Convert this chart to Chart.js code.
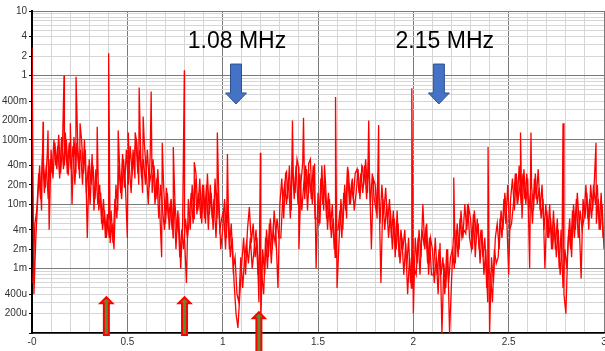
<!DOCTYPE html>
<html>
<head>
<meta charset="utf-8">
<script src="https://cdn.jsdelivr.net/npm/chart.js@4.4.0/dist/chart.umd.min.js"></script>
<style>
  html, body { margin: 0; padding: 0; background: #fff; }
  canvas { display: block; }
</style>
</head>
<body>
<canvas id="spectrum" width="605" height="351"></canvas>
<script>
// noise floor, one sample every 0.01 MHz from 0 to 3 MHz
const freqStep = 0.01;
const baseLevel = [
  2.7, 0.0004, 0.003, 0.012, 0.04, 0.008, 0.045, 0.018, 0.06, 0.004,
  0.07, 0.025, 0.09, 0.035, 0.12, 0.03, 0.08, 0.04, 0.1, 0.028,
  0.09, 0.01, 0.11, 0.03, 0.08, 0.025, 0.1, 0.03, 0.07, 0.003,
  0.05, 0.02, 0.04, 0.012, 0.03, 0.008, 0.015, 0.004, 0.008, 0.003,
  0.006, 0.0025, 0.005, 0.002, 0.02, 0.008, 0.035, 0.012, 0.05, 0.02,
  0.003, 0.04, 0.015, 0.07, 0.025, 0.09, 0.02, 0.06, 0.015, 0.08,
  0.03, 0.01, 0.06, 0.015, 0.04, 0.012, 0.035, 0.008, 0.0015, 0.02,
  0.005, 0.015, 0.004, 0.012, 0.003, 0.01, 0.004, 0.006, 0.001, 0.005,
  0.003, 0.0006, 0.012, 0.004, 0.02, 0.006, 0.03, 0.008, 0.025, 0.005,
  0.02, 0.005, 0.03, 0.007, 0.015, 0.004, 0.025, 0.006, 0.012, 0.002,
  0.004, 0.012, 0.003, 0.008, 0.0015, 0.003, 0.0006, 0.0002, 0.00012, 0.0004,
  0.0012, 0.003, 0.0008, 0.004, 0.009, 0.0025, 0.005, 0.0015, 0.003, 0.0003,
  0.00015, 0.002, 0.0008, 0.004, 0.0015, 0.006, 0.002, 0.008, 0.003, 0.0005,
  0.01, 0.025, 0.006, 0.03, 0.012, 0.04, 0.008, 0.03, 0.015, 0.05,
  0.002, 0.02, 0.045, 0.012, 0.035, 0.015, 0.05, 0.01, 0.03, 0.001,
  0.015, 0.005, 0.04, 0.008, 0.02, 0.004, 0.012, 0.003, 0.006, 0.0015,
  0.0005, 0.0025, 0.012, 0.004, 0.02, 0.006, 0.03, 0.01, 0.025, 0.008,
  0.015, 0.035, 0.012, 0.04, 0.02, 0.05, 0.015, 0.03, 0.002, 0.025,
  0.02, 0.006, 0.015, 0.0006, 0.012, 0.004, 0.01, 0.003, 0.008, 0.002,
  0.006, 0.002, 0.005, 0.0012, 0.003, 0.0008, 0.0025, 0.0004, 0.0015, 0.0005,
  0.0002, 0.003, 0.0012, 0.004, 0.0015, 0.01, 0.002, 0.005, 0.0008, 0.003,
  0.002, 0.0006, 0.0015, 0.0004, 0.0025, 0.0001, 0.0012, 0.0005, 0.002, 0.0001,
  0.0006, 0.003, 0.0012, 0.005, 0.002, 0.008, 0.003, 0.01, 0.004, 0.009,
  0.006, 0.002, 0.008, 0.003, 0.005, 0.0012, 0.004, 0.0008, 0.002, 0.0003,
  0.0001, 0.0015, 0.0006, 0.003, 0.005, 0.002, 0.008, 0.004, 0.015, 0.006,
  0.0008, 0.012, 0.025, 0.008, 0.03, 0.012, 0.02, 0.006, 0.035, 0.01,
  0.025, 0.001, 0.02, 0.008, 0.03, 0.01, 0.018, 0.006, 0.012, 0.001,
  0.008, 0.003, 0.006, 0.002, 0.005, 0.0015, 0.004, 0.0008, 0.002, 0.0004,
  0.0002, 0.002, 0.006, 0.0015, 0.01, 0.004, 0.015, 0.005, 0.0007, 0.012,
  0.006, 0.015, 0.004, 0.02, 0.008, 0.025, 0.005, 0.012, 0.004, 0.01, 0.002
];

// second sweep read half way between the samples above (0.005, 0.015, ...)
const midLevel = [
  0.0006, 0.005, 0.008, 0.03, 0.012, 0.06, 0.015, 0.04, 0.012, 0.05,
  0.03, 0.1, 0.04, 0.08, 0.025, 0.11, 0.035, 0.13, 0.03, 0.09,
  0.035, 0.08, 0.02, 0.09, 0.035, 0.07, 0.02, 0.1, 0.015, 0.04,
  0.01, 0.06, 0.008, 0.035, 0.01, 0.02, 0.005, 0.012, 0.003, 0.007,
  0.003, 0.008, 0.0025, 0.012, 0.006, 0.04, 0.015, 0.06, 0.018, 0.07,
  0.02, 0.08, 0.03, 0.05, 0.1, 0.03, 0.07, 0.025, 0.05, 0.02,
  0.07, 0.02, 0.03, 0.05, 0.01, 0.025, 0.006, 0.02, 0.008, 0.004,
  0.018, 0.006, 0.01, 0.004, 0.012, 0.002, 0.008, 0.0015, 0.004, 0.002,
  0.006, 0.003, 0.006, 0.015, 0.005, 0.025, 0.007, 0.015, 0.006, 0.02,
  0.006, 0.02, 0.004, 0.02, 0.006, 0.012, 0.003, 0.015, 0.004, 0.006,
  0.008, 0.002, 0.01, 0.002, 0.005, 0.001, 0.0015, 0.0004, 0.0003, 0.0015,
  0.0005, 0.0015, 0.0025, 0.0012, 0.003, 0.001, 0.002, 0.004, 0.0008, 0.002,
  0.0008, 0.0004, 0.003, 0.001, 0.005, 0.0012, 0.004, 0.0025, 0.006, 0.003,
  0.003, 0.012, 0.02, 0.01, 0.025, 0.006, 0.045, 0.012, 0.04, 0.01,
  0.03, 0.008, 0.02, 0.04, 0.008, 0.03, 0.012, 0.04, 0.006, 0.006,
  0.005, 0.025, 0.01, 0.02, 0.006, 0.015, 0.004, 0.01, 0.002, 0.004,
  0.004, 0.008, 0.003, 0.015, 0.008, 0.035, 0.01, 0.02, 0.012, 0.03,
  0.035, 0.015, 0.03, 0.015, 0.04, 0.012, 0.045, 0.01, 0.03, 0.012,
  0.008, 0.03, 0.005, 0.02, 0.007, 0.018, 0.005, 0.012, 0.003, 0.008,
  0.0015, 0.008, 0.0015, 0.004, 0.002, 0.004, 0.001, 0.003, 0.0006, 0.002,
  0.001, 0.0008, 0.003, 0.0008, 0.004, 0.0025, 0.004, 0.0012, 0.003, 0.0008,
  0.0008, 0.003, 0.0008, 0.002, 0.0008, 0.0015, 0.0004, 0.002, 0.0006, 0.0015,
  0.002, 0.001, 0.004, 0.0015, 0.006, 0.003, 0.004, 0.0035, 0.01, 0.003,
  0.002, 0.007, 0.0015, 0.006, 0.002, 0.004, 0.0015, 0.003, 0.0005, 0.001,
  0.0008, 0.0003, 0.002, 0.0012, 0.0015, 0.006, 0.003, 0.012, 0.005, 0.02,
  0.004, 0.005, 0.01, 0.03, 0.01, 0.04, 0.01, 0.03, 0.012, 0.03,
  0.008, 0.015, 0.005, 0.025, 0.012, 0.035, 0.008, 0.02, 0.004, 0.01,
  0.003, 0.01, 0.002, 0.008, 0.002, 0.006, 0.001, 0.004, 0.0005, 0.002,
  0.001, 0.004, 0.002, 0.008, 0.003, 0.012, 0.003, 0.008, 0.004, 0.006,
  0.02, 0.006, 0.012, 0.006, 0.02, 0.01, 0.02, 0.004, 0.015, 0.003
];

// narrow spectral lines sticking out of the floor
const spikeFreq = [0.058, 0.084, 0.168, 0.201, 0.231, 0.252, 0.342, 0.402, 0.452, 0.505,
  0.541, 0.562, 0.583, 0.625, 0.683, 0.741, 0.799, 0.851, 0.972, 1.025,
  1.198, 1.335, 1.366, 1.398, 1.424, 1.451, 1.482, 1.534, 1.592, 1.655,
  1.734, 1.766, 1.818, 1.992, 2.212, 2.392, 2.562, 2.617, 2.785, 2.958];
const spikeLevel = [0.19, 0.14, 1.0, 0.18, 0.95, 0.18, 0.16, 2.2, 0.14, 0.13,
  0.13, 0.65, 0.23, 0.56, 0.09, 0.077, 1.2, 0.045, 0.13, 0.06,
  0.063, 0.032, 0.2, 0.038, 0.22, 0.043, 0.043, 0.041, 0.46, 0.038,
  0.038, 0.2, 0.17, 0.63, 0.026, 0.077, 0.13, 0.13, 0.18, 0.09];

const xLabelValues = [0, 0.5, 1, 1.5, 2, 2.5, 3];
const xLabelTexts = ['-0', '0.5', '1', '1.5', '2', '2.5', '3'];
const yLabelValues = [10, 4, 2, 1, 0.4, 0.2, 0.1, 0.04, 0.02, 0.01, 0.004, 0.002, 0.001, 0.0004, 0.0002, 0.0001];
const yLabelTexts = ['10', '4', '2', '1', '400m', '200m', '100m', '40m', '20m', '10m', '4m', '2m', '1m', '400u', '200u', ''];

// annotations (data coordinates)
const markerTexts = [
  { text: '1.08 MHz', x: 1.075, y: 3.4 },
  { text: '2.15 MHz', x: 2.165, y: 3.4 }
];
const downArrows = [
  { x: 1.07, from: 1.5, to: 0.36 },
  { x: 2.134, from: 1.5, to: 0.36 }
];
const upArrows = [
  { x: 0.39, tip: 0.00036, base: 0.0001 },
  { x: 0.80, tip: 0.00036, base: 0.0001 },
  { x: 1.19, tip: 0.00021, base: 0.00005 }
];

function same(a, b) {
  return Math.abs(a - b) <= Math.abs(b) * 1e-6 + 1e-12;
}
function labelFor(values, texts, v) {
  const i = values.findIndex(t => same(v, t));
  return i < 0 ? null : texts[i];
}
function isDecade(v) {
  const l = Math.log10(v);
  return Math.abs(l - Math.round(l)) < 1e-6;
}

// merge floor samples and spectral lines into one sorted trace
const trace = baseLevel.map((v, i) => ({ x: Math.round(i * freqStep * 100) / 100, y: v }));
spikeFreq.forEach((f, i) => trace.push({ x: f, y: spikeLevel[i] }));
trace.sort((a, b) => a.x - b.x);
const midTrace = midLevel.map((v, i) => ({ x: Math.round((i + 0.5) * freqStep * 1000) / 1000, y: v }));

const annotationPlugin = {
  id: 'annotations',
  afterDraw(chart) {
    const ctx = chart.ctx;
    const xs = chart.scales.x, ys = chart.scales.y;
    ctx.save();

    ctx.fillStyle = '#000';
    ctx.font = '23px "Liberation Sans", Arial, sans-serif';
    ctx.textAlign = 'center';
    ctx.textBaseline = 'middle';
    markerTexts.forEach(m => ctx.fillText(m.text, xs.getPixelForValue(m.x), ys.getPixelForValue(m.y)));

    // blue block arrows pointing down
    downArrows.forEach(a => {
      const cx = xs.getPixelForValue(a.x);
      const top = ys.getPixelForValue(a.from);
      const tip = ys.getPixelForValue(a.to);
      const head = 11, sw = 5.5, hw = 10.5;
      ctx.beginPath();
      ctx.moveTo(cx - sw, top);
      ctx.lineTo(cx + sw, top);
      ctx.lineTo(cx + sw, tip - head);
      ctx.lineTo(cx + hw, tip - head);
      ctx.lineTo(cx, tip);
      ctx.lineTo(cx - hw, tip - head);
      ctx.lineTo(cx - sw, tip - head);
      ctx.closePath();
      ctx.fillStyle = '#4472c4';
      ctx.fill();
      ctx.strokeStyle = '#2f528f';
      ctx.lineWidth = 1;
      ctx.stroke();
    });

    // red/green arrows pointing up from the axis
    upArrows.forEach(a => {
      const cx = xs.getPixelForValue(a.x);
      const tip = ys.getPixelForValue(a.tip);
      const bottom = ys.getPixelForValue(a.base) + 2;
      const head = 6, sw = 2.5, hw = 6;
      ctx.beginPath();
      ctx.moveTo(cx - sw, bottom);
      ctx.lineTo(cx - sw, tip + head);
      ctx.lineTo(cx - hw, tip + head);
      ctx.lineTo(cx, tip);
      ctx.lineTo(cx + hw, tip + head);
      ctx.lineTo(cx + sw, tip + head);
      ctx.lineTo(cx + sw, bottom);
      ctx.closePath();
      ctx.fillStyle = '#5e8a2e';
      ctx.fill();
      ctx.strokeStyle = '#ff0000';
      ctx.lineWidth = 2;
      ctx.stroke();
    });
    ctx.restore();
  }
};

const tickFont = { family: '"Liberation Sans", Arial, sans-serif', size: 10 };
const traceStyle = { borderColor: '#ff0000', borderWidth: 1.3, pointRadius: 0, tension: 0, fill: false };

new Chart(document.getElementById('spectrum').getContext('2d'), {
  type: 'line',
  data: {
    datasets: [
      Object.assign({ data: midTrace }, traceStyle),
      Object.assign({ data: trace }, traceStyle)
    ]
  },
  options: {
    responsive: false,
    animation: false,
    events: [],
    layout: { padding: { top: 11, right: 1, left: 0, bottom: 0 } },
    plugins: { legend: { display: false }, tooltip: { enabled: false } },
    scales: {
      x: {
        type: 'linear',
        min: 0,
        max: 3,
        afterBuildTicks: scale => {
          const t = [];
          for (let i = 0; i <= 30; i++) t.push({ value: i / 10 });
          scale.ticks = t;
        },
        afterFit: scale => {
          scale.height = 18;
          scale.paddingLeft = 0;
          scale.paddingRight = 0;
        },
        ticks: {
          autoSkip: false,
          maxRotation: 0,
          padding: 3,
          color: '#333',
          font: tickFont,
          callback: v => labelFor(xLabelValues, xLabelTexts, v) || ''
        },
        grid: {
          drawTicks: false,
          color: c => (c.tick && labelFor(xLabelValues, xLabelTexts, c.tick.value) !== null) ? '#7a7a7a' : '#d6d6d6',
          lineWidth: 1
        },
        border: { color: '#000', width: 1.5 }
      },
      y: {
        type: 'logarithmic',
        min: 0.0001,
        max: 10,
        afterBuildTicks: scale => {
          const t = [];
          [0.0001, 0.001, 0.01, 0.1, 1].forEach(d => {
            for (let m = 1; m <= 9; m++) t.push({ value: d * m });
          });
          t.push({ value: 10 });
          scale.ticks = t;
        },
        afterFit: scale => { scale.width = 32; },
        ticks: {
          autoSkip: false,
          padding: 2,
          color: '#333',
          font: tickFont,
          callback: v => labelFor(yLabelValues, yLabelTexts, v) || ''
        },
        grid: {
          tickLength: 3,
          color: c => (c.tick && isDecade(c.tick.value)) ? '#7a7a7a' : '#d6d6d6',
          tickColor: c => (c.tick && labelFor(yLabelValues, yLabelTexts, c.tick.value) !== null) ? '#000' : 'rgba(0,0,0,0)',
          lineWidth: 1
        },
        border: { color: '#000', width: 2 }
      }
    }
  },
  plugins: [annotationPlugin]
});
</script>
</body>
</html>
